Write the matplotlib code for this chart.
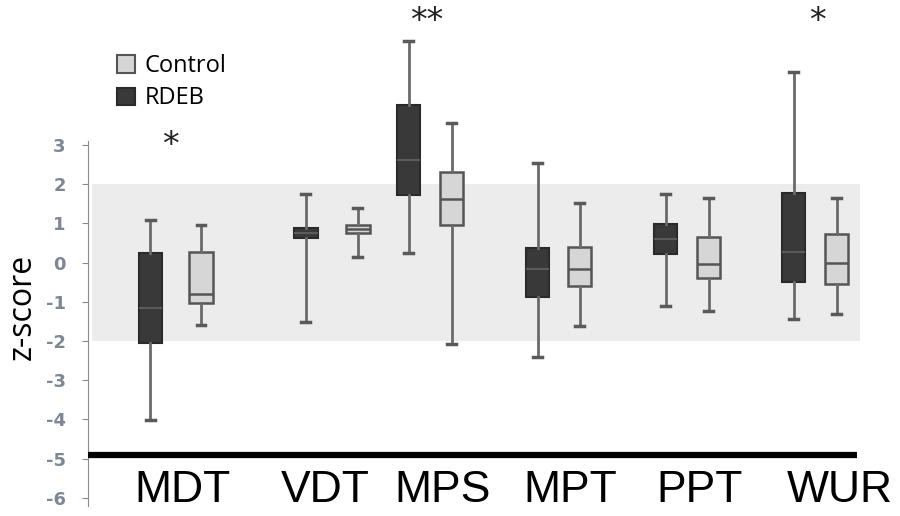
import matplotlib
matplotlib.use("Agg")
import matplotlib.pyplot as plt
from matplotlib.patches import Patch

plt.rcParams["axes.unicode_minus"] = False

# z-score distributions (whisker low, q1, median, q3, whisker high)
tests = ["MDT", "VDT", "MPS", "MPT", "PPT", "WUR"]
rdeb_low = [-4.02, -1.52, 0.24, -2.41, -1.10, -1.44]
rdeb_q1 = [-2.05, 0.62, 1.72, -0.88, 0.22, -0.50]
rdeb_med = [-1.16, 0.76, 2.61, -0.17, 0.60, 0.27]
rdeb_q3 = [0.24, 0.88, 4.02, 0.37, 0.98, 1.77]
rdeb_high = [1.08, 1.75, 5.66, 2.54, 1.75, 4.86]

ctrl_low = [-1.60, 0.14, -2.08, -1.62, -1.23, -1.31]
ctrl_q1 = [-1.03, 0.75, 0.96, -0.60, -0.40, -0.55]
ctrl_med = [-0.80, 0.85, 1.62, -0.17, -0.04, -0.01]
ctrl_q3 = [0.27, 0.96, 2.31, 0.40, 0.65, 0.73]
ctrl_high = [0.96, 1.39, 3.56, 1.52, 1.65, 1.65]

stars = ["*", "", "**", "", "", "*"]

# layout (x in units of 100 px)
rdeb_pos = [1.50, 3.06, 4.09, 5.38, 6.66, 7.94]
ctrl_pos = [2.01, 3.58, 4.52, 5.80, 7.09, 8.37]
label_x = [1.83, 3.25, 4.43, 5.70, 7.00, 8.40]
star_x = [1.70, None, 4.27, None, None, 8.17]
star_y = [3.0, None, 6.15, None, None, 6.15]

fig = plt.figure(figsize=(9, 5.16), dpi=100)
ax = fig.add_axes([88 / 900, 10 / 516, (880 - 88) / 900, 1 - 10 / 516])
ax.set_xlim(0.88, 8.80)
ax.set_ylim(-6.21, 6.70)


def stats(low, q1, med, q3, high):
    return [dict(whislo=a, q1=b, med=c, q3=d, whishi=e, fliers=[])
            for a, b, c, d, e in zip(low, q1, med, q3, high)]


# reference band -2..2
ax.axhspan(-2, 2, xmin=(0.92 - 0.88) / 7.92, xmax=(8.60 - 0.88) / 7.92,
           color="#ececec", zorder=0, lw=0)

common = dict(widths=0.23, patch_artist=True, showfliers=False,
              capwidths=0.09, manage_ticks=False)
ax.bxp(stats(rdeb_low, rdeb_q1, rdeb_med, rdeb_q3, rdeb_high),
       positions=rdeb_pos,
       boxprops=dict(facecolor="#393939", edgecolor="#2a2a2a", lw=1.5),
       medianprops=dict(color="#5a5a5a", lw=1.5),
       whiskerprops=dict(color="#6a6a6a", lw=2),
       capprops=dict(color="#5a5a5a", lw=2.5), **common)
ax.bxp(stats(ctrl_low, ctrl_q1, ctrl_med, ctrl_q3, ctrl_high),
       positions=ctrl_pos,
       boxprops=dict(facecolor="#d6d6d6", edgecolor="#555555", lw=1.8),
       medianprops=dict(color="#555555", lw=1.8),
       whiskerprops=dict(color="#6a6a6a", lw=2),
       capprops=dict(color="#5a5a5a", lw=2.5), **common)

# thick base line at -5
ax.plot([0.88, 8.57], [-4.9, -4.9], color="black", lw=4.5, solid_capstyle="butt",
        zorder=3)

for s, x, y in zip(stars, star_x, star_y):
    if s:
        ax.text(x, y, s, ha="center", va="center", fontsize=24,
                family="DejaVu Sans", color="#222222")

for t, x in zip(tests, label_x):
    ax.text(x, -6.12, t, ha="center", va="baseline", fontsize=32,
            family="Liberation Sans", color="black")

# axes styling
for side in ["top", "right", "bottom"]:
    ax.spines[side].set_visible(False)
ax.spines["left"].set_color("#8a8a8a")
ax.spines["left"].set_bounds(-6.2, 3.1)
ax.set_xticks([])
ax.set_yticks(range(-6, 4))
ax.tick_params(axis="y", length=4, color="#8a8a8a", labelsize=13,
               labelcolor="#7d8796", pad=12)
for lab in ax.get_yticklabels():
    lab.set_fontweight("bold")
    lab.set_family("DejaVu Sans")

fig.text(22 / 900, 1 - 307 / 516, "z-score", rotation=90, ha="center",
         va="center", fontsize=23, family="Open Sans")

handles = [Patch(facecolor="#d6d6d6", edgecolor="#555555", lw=1.5, label="Control"),
           Patch(facecolor="#393939", edgecolor="#2a2a2a", lw=1.5, label="RDEB")]
ax.legend(handles=handles, loc="upper left", bbox_to_anchor=(0.01, 0.935),
          frameon=False, handlelength=0.75, handleheight=0.75, handletextpad=0.4,
          labelspacing=0.35, prop=dict(family="Open Sans", size=17))

fig.savefig("out.png", dpi=100)
